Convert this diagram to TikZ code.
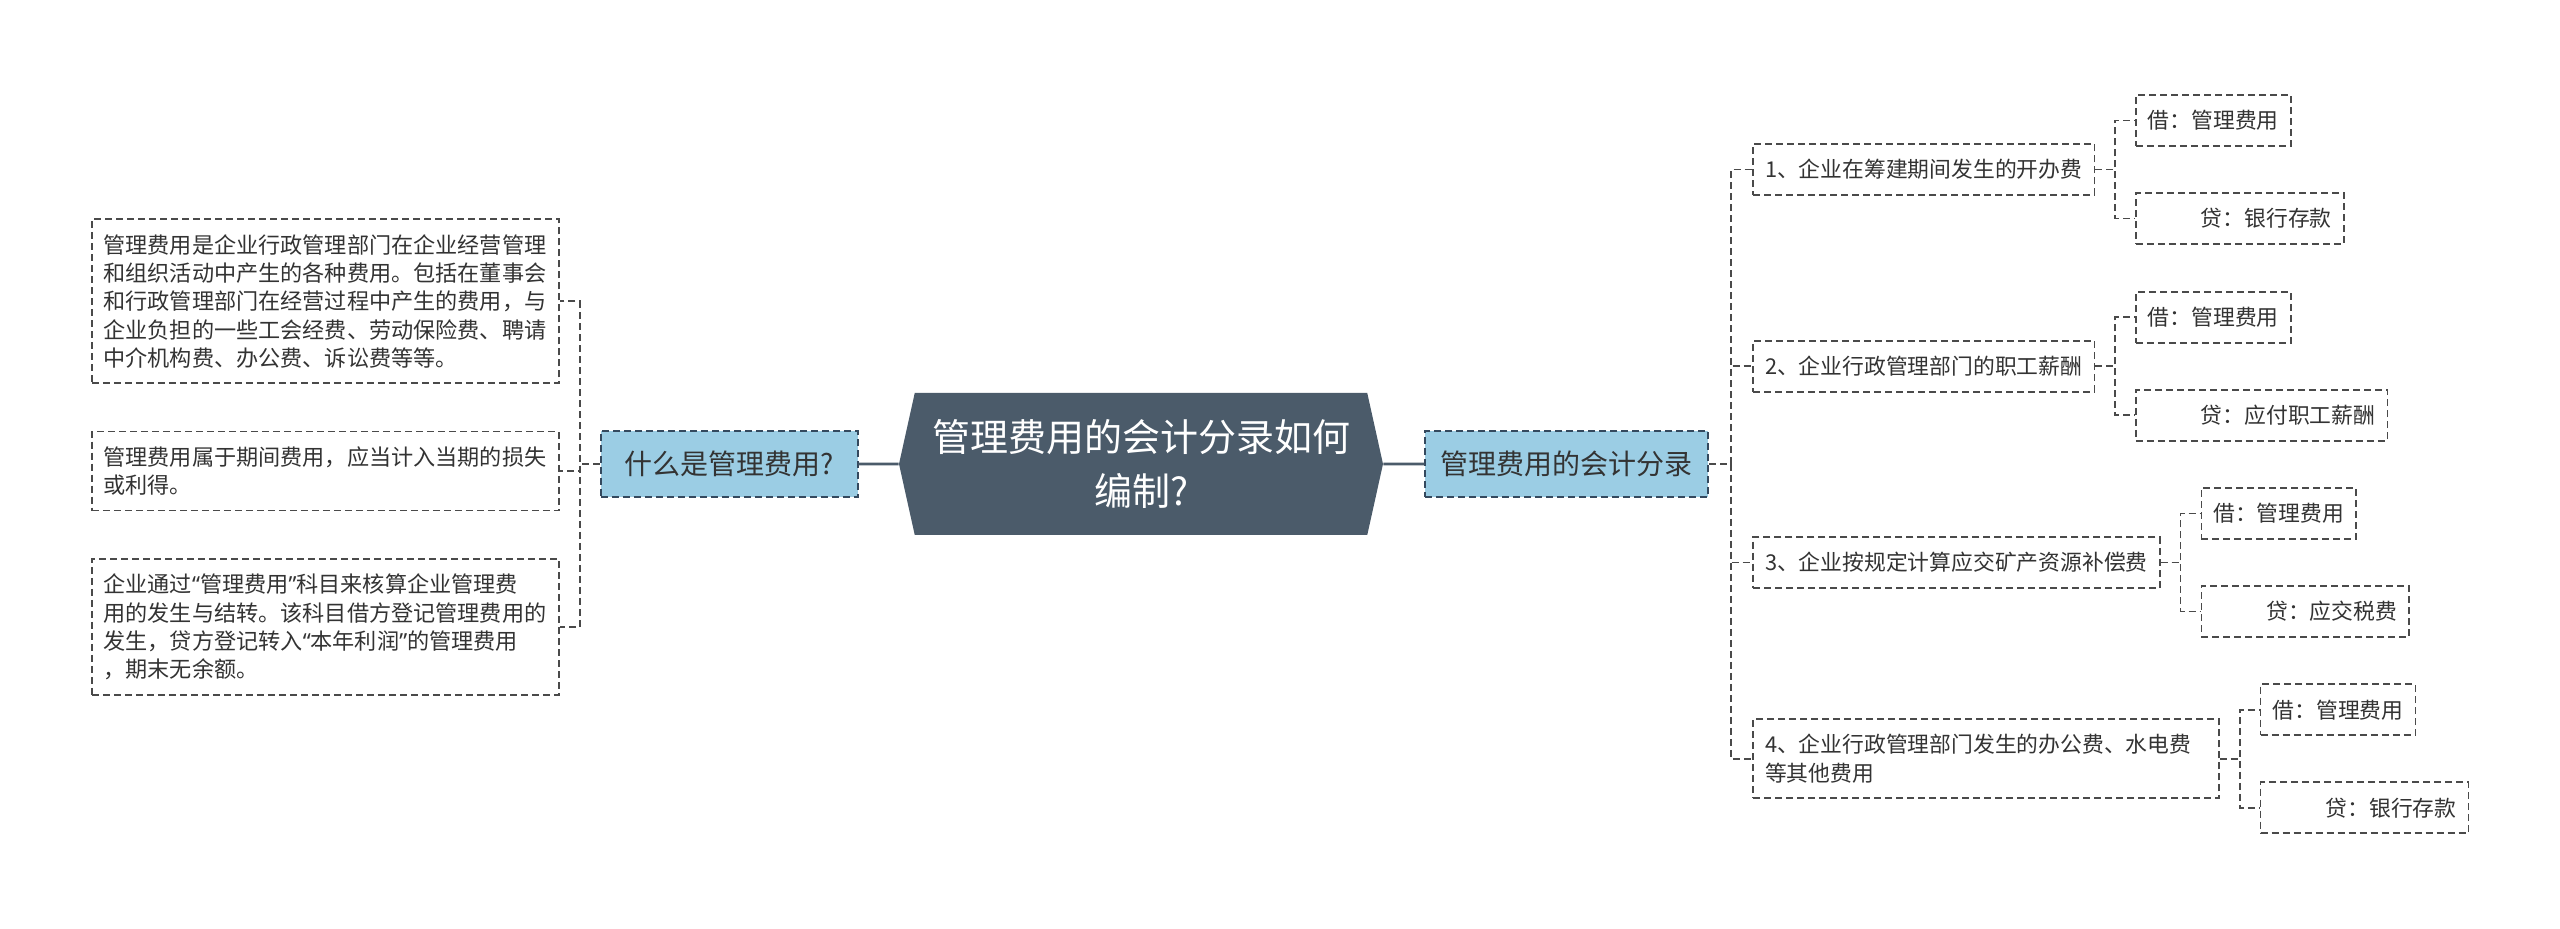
\documentclass[tikz,border=0pt]{standalone}
\usepackage{fontspec}
\newfontfamily\cjk{Noto Sans CJK SC}
\newfontfamily\latinq{Noto Sans}
\newcommand\qopen{{\latinq “}}
\newcommand\qclose{{\latinq ”}}
\usetikzlibrary{positioning,shapes.symbols}
\definecolor{rootbg}{HTML}{4B5B6A}
\definecolor{topicbg}{HTML}{9BCDE4}
\definecolor{topicln}{HTML}{34495E}
\definecolor{leafln}{HTML}{4A4A4A}
\definecolor{ink}{HTML}{333333}

\begin{document}
\begin{tikzpicture}[x=0.5pt, y=-0.5pt,
  root/.style={signal,signal to=west and east,signal pointer angle=155,fill=rootbg,text=white,font=\cjk\fontsize{19pt}{26.7pt}\selectfont,align=center,minimum width=242pt,minimum height=71pt,inner sep=0pt},
  topic/.style={draw=topicln,fill=topicbg,line width=0.9pt,dash pattern=on 3.5pt off 2pt,text=ink,font=\cjk\fontsize{14pt}{17pt}\selectfont,minimum height=33pt,inner sep=0pt},
  note/.style={draw=leafln,fill=white,line width=0.8pt,dash pattern=on 3.5pt off 2pt,text=ink,font=\cjk\fontsize{11.07pt}{14.15pt}\selectfont,text width=222pt,align=left,inner xsep=5.75pt},
  entry/.style={draw=leafln,fill=white,line width=0.8pt,dash pattern=on 3.5pt off 2pt,text=ink,font=\cjk\fontsize{10.9pt}{14.2pt}\selectfont,align=left,inner xsep=6pt,minimum height=25.5pt},
  credit/.style={entry,execute at begin node=\hspace*{26.5pt}},
  link/.style={draw=leafln,line width=0.8pt,dash pattern=on 3.5pt off 2pt},
  stem/.style={draw=rootbg,line width=1.3pt}]
  \useasboundingbox (0,0) rectangle (2560,929);
  % centre and the two topics
  \node[root] (root) at (1141,464) {管理费用的会计分录如何\\编制?};
  \node[topic,minimum width=128.5pt,left=20pt of root] (whatis) {什么是管理费用?};
  \node[topic,minimum width=141.5pt,right=20.5pt of root] (acct) {管理费用的会计分录};
  \draw[stem] (root) -- (whatis); \draw[stem] (root) -- (acct);
  % what it is
  \node[note,minimum height=82pt,left=20pt of whatis,yshift=81.35pt] (def1) {管理费用是企业行政管理部门在企业经营管理\\和组织活动中产生的各种费用。包括在董事会\\和行政管理部门在经营过程中产生的费用，与\\企业负担的一些工会经费、劳动保险费、聘请\\中介机构费、办公费、诉讼费等等。};
  \node[note,minimum height=39.5pt,left=20pt of whatis,yshift=-3.6pt] (def2) {管理费用属于期间费用，应当计入当期的损失\\或利得。};
  \node[note,minimum height=68pt,left=20pt of whatis,yshift=-81.5pt] (def3) {企业通过\qopen 管理费用\qclose 科目来核算企业管理费\\用的发生与结转。该科目借方登记管理费用的\\发生，贷方登记转入\qopen 本年利润\qclose 的管理费用\\，期末无余额。};
  \draw[link] (whatis.west) -- ++(-20,0) |- (def1.east); \draw[link] (whatis.west) -- ++(-20,0) |- (def2.east);
  \draw[link] (whatis.west) -- ++(-20,0) |- (def3.east);
  % the four entries
  \node[entry,right=21.5pt of acct,yshift=147.25pt] (e1) {1、企业在筹建期间发生的开办费};
  \node[entry,right=21.5pt of acct,yshift=48.85pt] (e2) {2、企业行政管理部门的职工薪酬};
  \node[entry,right=21.5pt of acct,yshift=-49.25pt] (e3) {3、企业按规定计算应交矿产资源补偿费};
  \node[entry,text width=221pt,minimum height=39.5pt,right=21.5pt of acct,yshift=-147.4pt] (e4) {4、企业行政管理部门发生的办公费、水电费\\等其他费用};
  \draw[link] (acct.east) -- ++(22,0) |- (e1.west); \draw[link] (acct.east) -- ++(22,0) |- (e2.west);
  \draw[link] (acct.east) -- ++(22,0) |- (e3.west); \draw[link] (acct.east) -- ++(22,0) |- (e4.west);
  % debit / credit
  \node[entry,right=20pt of e1,yshift=24.5pt] (dr1) {借：管理费用};
  \node[credit,right=20pt of e1,yshift=-24.5pt] (cr1) {贷：银行存款};
  \node[entry,right=20pt of e2,yshift=24.5pt] (dr2) {借：管理费用};
  \node[credit,right=20pt of e2,yshift=-24.5pt] (cr2) {贷：应付职工薪酬};
  \node[entry,right=20pt of e3,yshift=24.5pt] (dr3) {借：管理费用};
  \node[credit,right=20pt of e3,yshift=-24.5pt] (cr3) {贷：应交税费};
  \node[entry,right=20pt of e4,yshift=24.5pt] (dr4) {借：管理费用};
  \node[credit,right=20pt of e4,yshift=-24.5pt] (cr4) {贷：银行存款};
  \draw[link] (e1.east) -- ++(20,0) |- (dr1.west); \draw[link] (e1.east) -- ++(20,0) |- (cr1.west);
  \draw[link] (e2.east) -- ++(20,0) |- (dr2.west); \draw[link] (e2.east) -- ++(20,0) |- (cr2.west);
  \draw[link] (e3.east) -- ++(20,0) |- (dr3.west); \draw[link] (e3.east) -- ++(20,0) |- (cr3.west);
  \draw[link] (e4.east) -- ++(20,0) |- (dr4.west); \draw[link] (e4.east) -- ++(20,0) |- (cr4.west);
\end{tikzpicture}
\end{document}
